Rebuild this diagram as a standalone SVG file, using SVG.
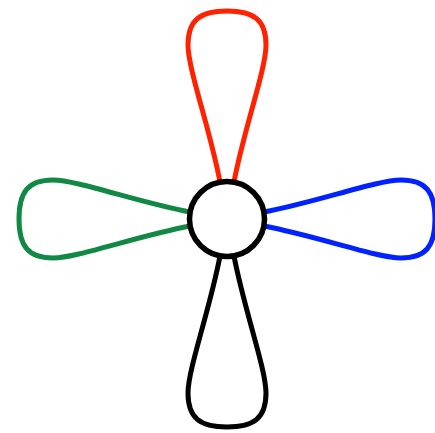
<svg xmlns="http://www.w3.org/2000/svg" width="435" height="433" viewBox="0 0 435 433">
<style>
.loop{fill:none;stroke-width:5;stroke-linecap:round}
.node{fill:#fff;stroke:#000;stroke-width:5.5}
</style>
<defs>
<path id="lp" d="M -7,-37 C -17,-90 -39,-150 -39,-174 C -39,-199 -27,-208 0,-208 C 27,-208 39,-199 39,-174 C 39,-150 17,-90 7,-37"/>
</defs>
<g id="connectors">
<use href="#lp" class="loop" stroke="#ff2200" transform="translate(227,219)"/>
<use href="#lp" class="loop" stroke="#0022ff" transform="translate(227,219) rotate(90)"/>
<use href="#lp" class="loop" stroke="#000000" transform="translate(227,219) rotate(180)"/>
<use href="#lp" class="loop" stroke="#118844" transform="translate(227,219) rotate(270)"/>
</g>
<g id="node1">
<circle class="node" cx="227" cy="219" r="37.5"/>
</g>
</svg>
